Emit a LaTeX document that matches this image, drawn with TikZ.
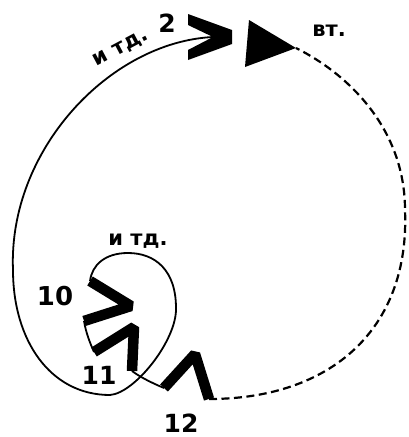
\documentclass[tikz,border=0pt]{standalone}
\usepackage{fontspec}
\newfontfamily\lbl{DejaVu Sans}
\begin{document}
\begin{tikzpicture}[x=1pt,y=-1pt,
  thinline/.style={line width=1.8pt, black},
  dashline/.style={line width=2.2pt, dash pattern=on 8pt off 4.5pt},
  chev/.style={line width=10.5pt, line join=bevel, line cap=butt},
  num/.style={font=\lbl\bfseries\fontsize{25}{25}\selectfont, inner sep=0pt},
  small/.style={font=\lbl\bfseries\fontsize{21}{21}\selectfont, inner sep=0pt}]
\useasboundingbox (0,0) rectangle (408,437);
% chevron 2 (filled)
\coordinate (c2a) at (188,14);
\coordinate (c2b) at (232,30);
\coordinate (c2c) at (232,44);
\coordinate (c2d) at (188,60);
\coordinate (c2e) at (188,50);
\coordinate (c2n) at (213,37);
\coordinate (c2f) at (188,25);
\fill (c2a) -- (c2b) -- (c2c) -- (c2d) -- (c2e) -- (c2n) -- (c2f) -- cycle;
% triangle
\coordinate (t1) at (249,20);
\coordinate (tt) at (296,48);
\coordinate (t2) at (245,67);
\fill (t1) -- (tt) -- (t2) -- cycle;
% chevron 10
\coordinate (a10) at (90,281);
\coordinate (b10) at (131,306);
\coordinate (e10) at (84,321);
\draw[chev] (a10) -- (b10) -- (e10);
% chevron 11
\coordinate (a11) at (94,352);
\coordinate (b11) at (134,327);
\coordinate (e11) at (132,371);
\draw[chev] (a11) -- (b11) -- (e11);
% chevron 12
\coordinate (a12) at (164,388);
\coordinate (b12) at (195,354);
\coordinate (e12) at (209,399);
\draw[chev] (a12) -- (b12) -- (e12);
% way points of the big solid curve
\coordinate (w1) at (13,270);
\coordinate (w2) at (110,395);
\coordinate (w3) at (176,308);
\coordinate (w4) at (128,253);
\draw[thinline] (c2n) .. controls (110,42) and (8,150) .. (w1)
  .. controls (13,340) and (50,395) .. (w2)
  .. controls (135,393) and (177,340) .. (w3)
  .. controls (176,270) and (155,253) .. (w4)
  .. controls (105,253) and (92,265) .. (a10);
% thin links
\draw[thinline] (e10) .. controls (86,333) and (90,343) .. (a11);
\draw[thinline] (e11) .. controls (140,377) and (152,383) .. (a12);
% dashed curve
\coordinate (w5) at (405,210);
\draw[dashline] (e12) .. controls (330,399) and (410,330) .. (w5)
  .. controls (405,130) and (350,75) .. (tt);
% labels
\node[num] (l2) at (167,23) {2};
\node[num, font=\lbl\bfseries\fontsize{26}{26}\selectfont] (l10) at (55,296) {10};
\node[num] (l11) at (99,375) {11};
\node[num] (l12) at (181,423) {12};
\node[small] (lvt) at (329,31) {вт.};
\node[small] (litd1) at (138,241) {и тд.};
\node[small, rotate=28] (litd2) at (121,49) {и тд.};
\end{tikzpicture}
\end{document}
